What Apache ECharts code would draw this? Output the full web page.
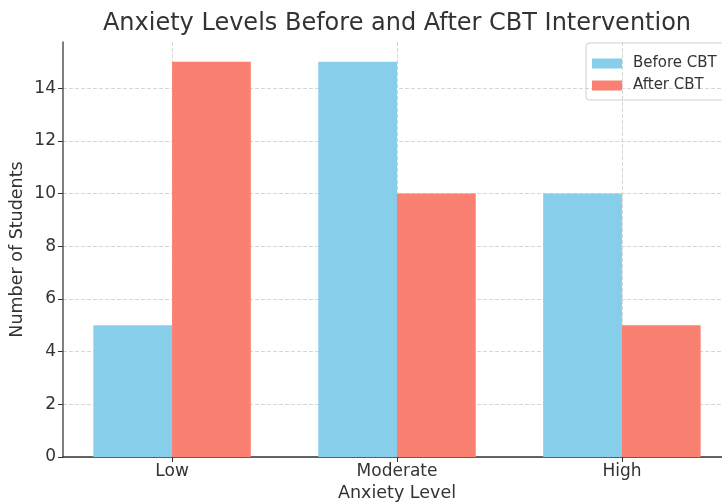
<!DOCTYPE html>
<html>
<head>
<meta charset="utf-8">
<script src="https://cdn.jsdelivr.net/npm/echarts@6/dist/echarts.min.js"></script>
<style>
  html, body { margin: 0; padding: 0; background: #fff; }
  #chart { width: 722px; height: 502px; }
</style>
</head>
<body>
<div id="chart"></div>
<script>
const categories = ['Low', 'Moderate', 'High'];
const beforeCBT = [5, 15, 10];
const afterCBT = [15, 10, 5];
const yTicks = [0, 2, 4, 6, 8, 10, 12, 14];
const catPositions = [0, 1, 2];

const font = 'DejaVu Sans';
const offset = 0.175;

const chart = echarts.init(document.getElementById('chart'));

const option = {
    animation: false,
    textStyle: { fontFamily: font },
    title: {
        text: 'Anxiety Levels Before and After CBT Intervention',
        left: 392,
        textAlign: 'center',
        top: 7,
        textStyle: { fontFamily: font, fontSize: 24, fontWeight: 'normal', color: '#333' }
    },
    legend: {
        orient: 'vertical',
        left: 586,
        top: 43,
        padding: [13, 8, 7, 6],
        itemGap: 7,
        itemWidth: 30,
        itemHeight: 10,
        icon: 'rect',
        borderColor: '#d0d0d0',
        borderWidth: 1,
        borderRadius: 3,
        textStyle: { fontFamily: font, fontSize: 15, color: '#333', lineHeight: 15, padding: [0, 0, 0, 6] },
        data: ['Before CBT', 'After CBT']
    },
    grid: { left: 63, right: -9, top: 42, bottom: 45, outerBoundsMode: 'none' },
    xAxis: {
        type: 'value',
        min: -0.485,
        max: 2.485,
        name: 'Anxiety Level',
        nameLocation: 'middle',
        nameGap: 27,
        nameMoveOverlap: false,
        nameTextStyle: { fontFamily: font, fontSize: 17.5, color: '#333' },
        axisLine: { show: true, onZero: false, lineStyle: { color: '#333', width: 1.5 } },
        axisTick: { show: true, customValues: catPositions, length: 5, lineStyle: { color: '#333' } },
        axisLabel: {
            customValues: catPositions,
            margin: 6,
            fontSize: 17,
            color: '#333',
            formatter: v => categories[Math.round(v)] || ''
        },
        splitLine: { show: true, lineStyle: { type: [4, 2], color: '#ccc', width: 0.8 } }
    },
    yAxis: {
        type: 'value',
        min: 0,
        max: 15.75,
        name: 'Number of Students',
        nameLocation: 'middle',
        nameGap: 37,
        nameMoveOverlap: false,
        nameTextStyle: { fontFamily: font, fontSize: 17.5, color: '#333' },
        axisLine: { show: true, onZero: false, lineStyle: { color: '#555', width: 1.5 } },
        axisTick: { show: true, customValues: yTicks, length: 5, lineStyle: { color: '#333' } },
        axisLabel: { customValues: yTicks, margin: 7, fontSize: 17, color: '#333' },
        splitLine: { show: true, lineStyle: { type: [4, 2], color: '#ccc', width: 0.8 } }
    },
    series: [
        {
            name: 'Before CBT',
            type: 'bar',
            barWidth: 78.75,
            barGap: '-100%',
            itemStyle: { color: '#87CEEB' },
            data: beforeCBT.map((v, i) => [catPositions[i] - offset, v])
        },
        {
            name: 'After CBT',
            type: 'bar',
            barWidth: 78.75,
            barGap: '-100%',
            itemStyle: { color: '#FA8072' },
            data: afterCBT.map((v, i) => [catPositions[i] + offset, v])
        }
    ]
};

chart.setOption(option);
</script>
</body>
</html>
